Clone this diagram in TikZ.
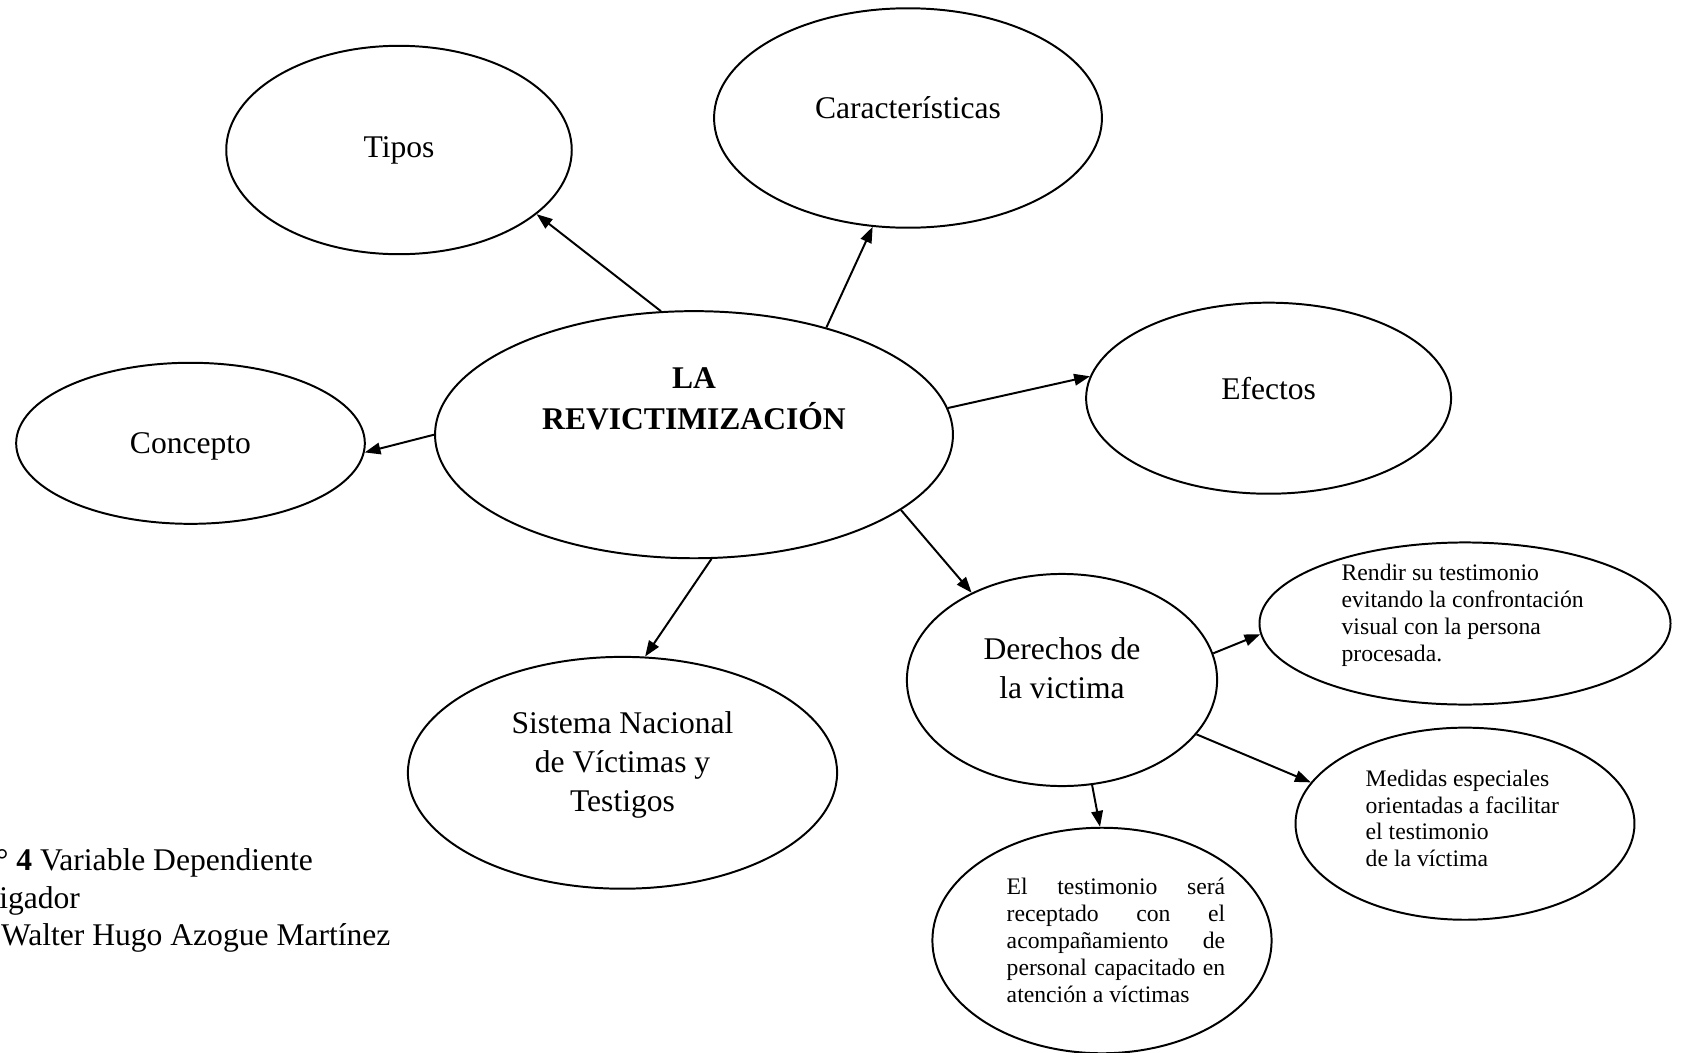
\documentclass[tikz,border=0pt]{standalone}
\usepackage{fontspec}
\setmainfont{Liberation Serif}
\usetikzlibrary{shapes.geometric, arrows.meta}

\tikzset{
  bubble/.style={ellipse, draw, line width=0.75pt, inner sep=0pt},
  big/.style={font=\fontsize{12}{14.8}\selectfont, align=center},
  head/.style={font=\fontsize{12}{15.4}\selectfont\bfseries, align=center},
  small/.style={font=\fontsize{9}{10.2}\selectfont, align=left},
  note/.style={font=\fontsize{12}{14.2}\selectfont, anchor=base east, inner sep=0pt},
  link/.style={-{Triangle[length=6pt,width=4.4pt]}, line width=0.75pt},
}

\begin{document}
\begin{tikzpicture}[x=0.38pt, y=-0.38pt]
  \useasboundingbox (0,0) rectangle (1683,1053);

  % Central idea
  \node[bubble, minimum width=196.8pt, minimum height=93.9pt,
        label={[head, yshift=13.6pt]center:LA\\REVICTIMIZACIÓN}] (rev) at (694,434.7) {};

  % First ring
  \node[bubble, minimum width=131.3pt, minimum height=79.2pt,
        label={[big]center:Tipos}] (tipos) at (399,150) {};
  \node[bubble, minimum width=147.4pt, minimum height=83.4pt,
        label={[big, yshift=3.8pt]center:Características}] (carac) at (908,118) {};
  \node[bubble, minimum width=132.5pt, minimum height=61.2pt,
        label={[big, yshift=-1pt]center:Concepto}] (concepto) at (190.5,443.3) {};
  \node[bubble, minimum width=138.7pt, minimum height=72.6pt,
        label={[big, yshift=3.7pt]center:Efectos}] (efectos) at (1268.6,398.2) {};
  \node[bubble, minimum width=163.1pt, minimum height=88.1pt,
        label={[big, yshift=2.9pt]center:Sistema Nacional\\de Víctimas y\\Testigos}] (sistema) at (622.5,772.8) {};
  \node[bubble, minimum width=117.9pt, minimum height=80.6pt,
        label={[big, yshift=4.4pt]center:Derechos de\\la victima}] (derechos) at (1062,680) {};

  % Rights of the victim
  \node[bubble, minimum width=156.2pt, minimum height=61.6pt,
        label={[small, xshift=-0.9pt, yshift=3.2pt]center:Rendir su testimonio\\evitando la confrontación\\visual con la persona\\procesada.}] (rendir) at (1465,623.5) {};
  \node[bubble, minimum width=128.8pt, minimum height=73pt,
        label={[small, xshift=-1pt, yshift=2pt]center:Medidas especiales\\orientadas a facilitar\\el testimonio\\de la víctima}] (medidas) at (1465,823.7) {};
  \node[bubble, minimum width=128.9pt, minimum height=85.7pt,
        label={[small, align=justify, text width=83pt, xshift=5.3pt]center:El testimonio será\linebreak receptado con el\linebreak acompañamiento de\linebreak personal capacitado en\linebreak atención a víctimas}] (testimonio) at (1102,940.5) {};

  % Arrows
  \draw[link] (rev.105.7) -- (tipos.-25.3);
  \draw[link] (rev.39) -- (carac.-108.8);
  \draw[link] (rev.6.25) -- (efectos.173.6);
  \draw[link] (rev.180.7) -- (concepto.-3.3);
  \draw[link] (rev.-82.5) -- (sistema.79.1);
  \draw[link] (rev.-20.2) -- (derechos.136.4);
  \draw[link] (derechos.10.1) -- (rendir.183.7);
  \draw[link] (derechos.-22.7) -- (medidas.165.5);
  \draw[link] (derechos.-74.6) -- (testimonio.91.9);

  % Caption
  \node[note] (fig) at (313.3,870.7) {Gráfico N° \textbf{4} Variable Dependiente};
  \node[note] (fuente) at (80.5,908.3) {Fuente: Investigador};
  \node[note] (autor) at (391,945) {Autor: Walter Hugo Azogue Martínez};
\end{tikzpicture}
\end{document}
